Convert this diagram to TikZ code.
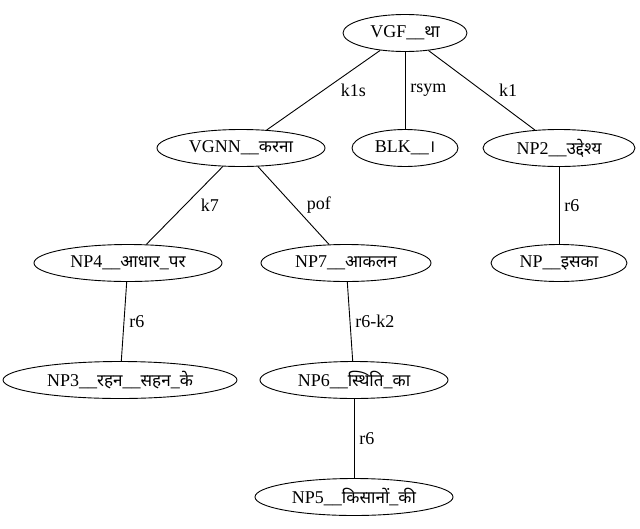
\documentclass[tikz,border=0pt]{standalone}
\usepackage{fontspec}
\setmainfont{Liberation Serif}
\newfontfamily\deva[Script=Devanagari,Scale=0.95]{Noto Sans}
\newcommand{\dv}[1]{{\deva #1}}
\usetikzlibrary{shapes,positioning}
\tikzstyle{cloud} =
  [draw, ellipse, line width=0.9pt, text centered, inner sep=0pt, minimum height=37pt]
\tikzstyle{edge}=[draw,line width=0.9pt]
\tikzstyle{labs}=[anchor=west, inner sep=0pt, xshift=17pt]
\tikzstyle{labv}=[anchor=west, inner sep=0pt, xshift=5pt]

\begin{document}
\begin{tikzpicture}[node distance = 115pt, font=\fontsize{18}{20}\selectfont]
  \useasboundingbox (0,0) rectangle (640pt,-528pt);
  \node [cloud, minimum width=124pt] (v) at (405pt,-33pt) {VGF\_\_\dv{था}};
  \node [cloud, below of=v, xshift=-164pt, minimum width=168pt] (vg) {VGNN\_\_\dv{करना}};
  \node [cloud, below of=v, minimum width=106pt] (blk) {BLK\_\_\dv{।}};
  \node [cloud, below of=v, xshift=154pt, minimum width=152pt] (np2) {NP2\_\_\dv{उद्देश्य}};
  \node [cloud, below of=vg, xshift=-113pt, minimum width=188pt] (np4) {NP4\_\_\dv{आधार}\_\dv{पर}};
  \node [cloud, below of=vg, xshift=105pt, minimum width=170pt] (np7) {NP7\_\_\dv{आकलन}};
  \node [cloud, below of=np2, minimum width=136pt] (np) {NP\_\_\dv{इसका}};
  \node [cloud, below of=np4, node distance=117pt, xshift=-8pt, minimum width=234pt] (np3) {NP3\_\_\dv{रहन}\_\_\dv{सहन}\_\dv{के}};
  \node [cloud, below of=np7, node distance=117pt, xshift=8pt, minimum width=188pt] (np6) {NP6\_\_\dv{स्थिति}\_\dv{का}};
  \node [cloud, below of=np6, node distance=117pt, minimum width=198pt] (np5) {NP5\_\_\dv{किसानों}\_\dv{की}};

  \draw [edge] (v) -- node [labs] {k1s} (vg);
  \draw [edge] (v) -- node [labv] {rsym} (blk);
  \draw [edge] (v) -- node [labs] {k1} (np2);
  \draw [edge] (vg) -- node [labs, xshift=-1pt] {k7} (np4);
  \draw [edge] (vg) -- node [labs, xshift=-4pt] {pof} (np7);
  \draw [edge] (np2) -- node [labv] {r6} (np);
  \draw [edge] (np4) -- node [labv] {r6} (np3);
  \draw [edge] (np7) -- node [labv] {r6-k2} (np6);
  \draw [edge] (np6) -- node [labv] {r6} (np5);
\end{tikzpicture}
\end{document}
